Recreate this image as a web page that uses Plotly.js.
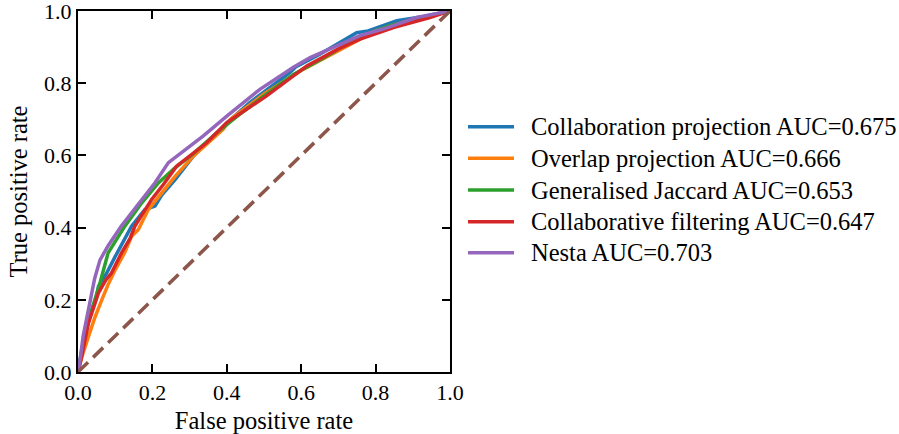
<!DOCTYPE html>
<html>
<head>
<meta charset="utf-8">
<script src="https://cdn.plot.ly/plotly-3.0.1.min.js"></script>
<style>
html,body{margin:0;padding:0;background:#fff;}
#chart{width:899px;height:434px;}
</style>
</head>
<body>
<div id="chart"></div>
<script>
// ---- data ----
const seriesNames = [
  "Collaboration projection AUC=0.675",
  "Overlap projection AUC=0.666",
  "Generalised Jaccard AUC=0.653",
  "Collaborative filtering AUC=0.647",
  "Nesta AUC=0.703"
];
const seriesColors = ["#1f77b4", "#ff7f0e", "#2ca02c", "#d62728", "#9467bd"];

const collabFpr = [0, 0.01, 0.03, 0.05, 0.055, 0.075, 0.1, 0.144, 0.18, 0.207, 0.225, 0.261, 0.31, 0.35, 0.4, 0.46, 0.52, 0.57, 0.585, 0.65, 0.749, 0.78, 0.857, 0.93, 1.0];
const collabTpr = [0, 0.06, 0.15, 0.21, 0.237, 0.27, 0.32, 0.404, 0.45, 0.46, 0.49, 0.533, 0.598, 0.64, 0.69, 0.745, 0.79, 0.83, 0.845, 0.88, 0.94, 0.945, 0.973, 0.985, 1.0];

const overlapFpr = [0, 0.01, 0.028, 0.045, 0.064, 0.08, 0.1, 0.125, 0.144, 0.162, 0.189, 0.22, 0.261, 0.31, 0.364, 0.39, 0.41, 0.5, 0.6, 0.7, 0.8, 0.9, 1.0];
const overlapTpr = [0, 0.04, 0.098, 0.15, 0.2, 0.24, 0.283, 0.33, 0.376, 0.394, 0.45, 0.49, 0.542, 0.598, 0.649, 0.672, 0.7, 0.77, 0.835, 0.89, 0.945, 0.975, 1.0];

const jaccardFpr = [0, 0.01, 0.02, 0.037, 0.06, 0.081, 0.1, 0.126, 0.171, 0.216, 0.26, 0.31, 0.37, 0.43, 0.5, 0.58, 0.66, 0.75, 0.84, 0.92, 1.0];
const jaccardTpr = [0, 0.06, 0.11, 0.172, 0.25, 0.33, 0.36, 0.404, 0.468, 0.524, 0.565, 0.605, 0.66, 0.71, 0.765, 0.825, 0.87, 0.925, 0.96, 0.98, 1.0];

const cfFpr = [0, 0.01, 0.028, 0.055, 0.075, 0.09, 0.117, 0.14, 0.153, 0.175, 0.198, 0.23, 0.265, 0.346, 0.4, 0.507, 0.615, 0.7, 0.758, 0.85, 0.946, 1.0];
const cfTpr = [0, 0.043, 0.135, 0.219, 0.255, 0.274, 0.33, 0.37, 0.404, 0.44, 0.478, 0.52, 0.57, 0.635, 0.691, 0.765, 0.848, 0.895, 0.922, 0.955, 0.982, 1.0];

const nestaFpr = [0, 0.005, 0.014, 0.032, 0.045, 0.059, 0.081, 0.117, 0.171, 0.207, 0.243, 0.292, 0.337, 0.4, 0.489, 0.579, 0.624, 0.758, 0.82, 0.91, 1.0];
const nestaTpr = [0, 0.03, 0.1, 0.2, 0.26, 0.31, 0.35, 0.405, 0.478, 0.524, 0.58, 0.617, 0.654, 0.709, 0.783, 0.844, 0.871, 0.932, 0.95, 0.982, 1.0];

const chanceX = [0, 1];
const chanceY = [0, 1];

const tickVals = [0, 0.2, 0.4, 0.6, 0.8, 1.0];
const tickText = ["0.0", "0.2", "0.4", "0.6", "0.8", "1.0"];

// ---- chart ----
const FONT = "Liberation Serif, Times New Roman, serif";
const W = 899, H = 434;
const L = 78, R = 450, T = 11, B = 372;

const xs = [collabFpr, overlapFpr, jaccardFpr, cfFpr, nestaFpr];
const ys = [collabTpr, overlapTpr, jaccardTpr, cfTpr, nestaTpr];

const traces = xs.map((x, i) => ({
  x: x, y: ys[i], type: "scatter", mode: "lines",
  name: seriesNames[i], showlegend: false,
  line: {color: seriesColors[i], width: 3.5}, hoverinfo: "skip"
}));
traces.push({
  x: chanceX, y: chanceY, type: "scatter", mode: "lines", showlegend: false,
  line: {color: "#8c564b", width: 3.5, dash: "14px,7px"}, hoverinfo: "skip"
});

const px2x = p => (p - L) / (R - L);
const px2y = p => (B - p) / (B - T);

const shapes = [];
const annotations = [];
const rowY = [126.7, 158.3, 190, 221.7, 252.7];
seriesNames.forEach((n, i) => {
  shapes.push({type: "line", xref: "paper", yref: "paper",
    x0: px2x(468), x1: px2x(514), y0: px2y(rowY[i]), y1: px2y(rowY[i]),
    line: {color: seriesColors[i], width: 3.5}});
  annotations.push({xref: "paper", yref: "paper", x: px2x(529), y: px2y(rowY[i]),
    xanchor: "left", yanchor: "middle", showarrow: false, text: n,
    font: {family: FONT, size: 24.5, color: "#000"}});
});

const axisCommon = {
  range: [0, 1], tickvals: tickVals, ticktext: tickText,
  ticks: "inside", ticklen: 8, tickwidth: 2, tickcolor: "#000",
  showline: true, linewidth: 2, linecolor: "#000", mirror: "ticks",
  showgrid: false, zeroline: false, fixedrange: true,
  ticklabeloverflow: "allow",
  tickfont: {family: FONT, size: 22, color: "#000"}
};

const layout = {
  width: W, height: H,
  margin: {l: L, r: W - R, t: T, b: H - B, pad: 0},
  paper_bgcolor: "#fff", plot_bgcolor: "#fff",
  font: {family: FONT, color: "#000"},
  xaxis: Object.assign({}, axisCommon, {
    title: {text: "False positive rate", font: {family: FONT, size: 24.5, color: "#000"}, standoff: 8}
  }),
  yaxis: Object.assign({}, axisCommon, {
    title: {text: "True positive rate", font: {family: FONT, size: 24.5, color: "#000"}, standoff: 10}
  }),
  shapes: shapes, annotations: annotations, showlegend: false
};

Plotly.newPlot("chart", traces, layout, {displayModeBar: false, staticPlot: true});
</script>
</body>
</html>
